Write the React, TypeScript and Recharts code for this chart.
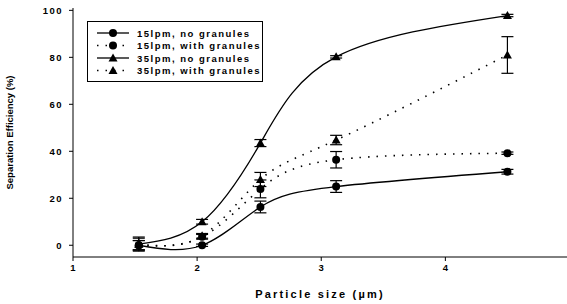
import React from 'react';
import { LineChart, Line, XAxis, YAxis, ErrorBar } from 'recharts';

// particle sizes (µm) and separation efficiency (%) per series
const sizes = [1.53, 2.04, 2.51, 3.12, 4.5];
const noGran15 = [0, 0, 16.3, 25, 31.3];
const noGran15Err = [2, 0.5, 2.5, 2.5, 1];
const gran15 = [0, 3.6, 24, 36.4, 39.2];
const gran15Err = [2, 1, 3.8, 3.5, 0.5];
const noGran35 = [0.5, 10, 43.5, 80.2, 97.8];
const noGran35Err = [2.5, 1, 1.5, 0.5, 0.5];
const gran35 = [0.5, 4, 28, 44.8, 81];
const gran35Err = [3, 1, 3, 2, 7.8];

const xTicks = [1, 2, 3, 4];
const yTicks = [0, 20, 40, 60, 80, 100];

const seriesNames = [
  '15lpm, no granules',
  '15lpm, with granules',
  '35lpm, no granules',
  '35lpm, with granules',
];

const data = sizes.map((s, i) => ({
  size: s,
  a: noGran15[i], aErr: noGran15Err[i],
  b: gran15[i], bErr: gran15Err[i],
  c: noGran35[i], cErr: noGran35Err[i],
  d: gran35[i], dErr: gran35Err[i],
}));

const font = '"Liberation Sans", Arial, sans-serif';
const dotted = '1.5 7';

const Circle = (props: any) => {
  const { cx, cy, key } = props;
  if (cx == null || cy == null) return null;
  return <circle key={key} cx={cx} cy={cy} r={4} fill="#000" />;
};

const Triangle = (props: any) => {
  const { cx, cy, key } = props;
  if (cx == null || cy == null) return null;
  return <path key={key} d={`M${cx},${cy - 4.5} L${cx + 4.5},${cy + 3.5} L${cx - 4.5},${cy + 3.5} Z`} fill="#000" />;
};

// legend drawn as a boxed overlay inside the plot, like the original figure
function LegendBox() {
  const rows = [
    { dash: undefined, tri: false },
    { dash: dotted, tri: false },
    { dash: undefined, tri: true },
    { dash: dotted, tri: true },
  ];
  return (
    <div style={{ position: 'absolute', left: 87, top: 21, border: '1px solid #000', width: 174, height: 59, background: '#fff' }}>
      <svg width={174} height={59} style={{ display: 'block' }}>
        {rows.map((r, i) => {
          const y = 11 + i * 12.5;
          return (
            <g key={i}>
              <line x1={9} x2={41} y1={y} y2={y} stroke="#000" strokeWidth={1.3} strokeDasharray={r.dash} />
              {r.tri ? <Triangle cx={25} cy={y} /> : <Circle cx={25} cy={y} />}
              <text x={49} y={y + 3.5} fontFamily={font} fontWeight="bold" fontSize={9.5} letterSpacing={1.5}>
                {seriesNames[i]}
              </text>
            </g>
          );
        })}
      </svg>
    </div>
  );
}

export default function App() {
  return (
    <div style={{ position: 'fixed', left: 0, top: 0, width: 567, height: 304, background: '#fff' }}>
      <LineChart width={567} height={304} data={data} margin={{ top: 8, right: 0, bottom: 0, left: 0 }}>
        <XAxis
          dataKey="size"
          type="number"
          domain={[1, 4.98]}
          ticks={xTicks}
          allowDataOverflow
          stroke="#000"
          tickSize={4}
          tick={{ fill: '#000', fontSize: 9.5, fontWeight: 'bold', fontFamily: font }}
          tickMargin={3}
          label={{
            value: 'Particle size (µm)',
            position: 'insideBottom',
            offset: 6,
            style: { fontFamily: font, fontWeight: 'bold', fontSize: 11, letterSpacing: 2.2, fill: '#000' },
          }}
          height={47}
        />
        <XAxis xAxisId="top" orientation="top" dataKey="size" type="number" domain={[1, 4.98]} tick={false} tickLine={false} stroke="#000" height={0} />
        <YAxis
          type="number"
          domain={[-5, 101]}
          ticks={yTicks}
          allowDataOverflow
          stroke="#000"
          tickSize={4}
          width={73}
          tick={{ fill: '#000', fontSize: 9.5, fontWeight: 'bold', fontFamily: font, letterSpacing: 1.5 }}
          tickMargin={6}
          label={{
            value: 'Separation Efficiency (%)',
            angle: -90,
            position: 'insideLeft',
            offset: 10,
            style: { textAnchor: 'middle', fontFamily: font, fontWeight: 'bold', fontSize: 9.5, fill: '#000' },
          }}
        />
        <Line type="natural" dataKey="a" stroke="#000" strokeWidth={1.3} dot={<Circle />} isAnimationActive={false}>
          <ErrorBar dataKey="aErr" width={6} stroke="#000" strokeWidth={1.2} />
        </Line>
        <Line type="natural" dataKey="b" stroke="#000" strokeWidth={1.6} strokeDasharray={dotted} dot={<Circle />} isAnimationActive={false}>
          <ErrorBar dataKey="bErr" width={6} stroke="#000" strokeWidth={1.2} />
        </Line>
        <Line type="natural" dataKey="c" stroke="#000" strokeWidth={1.3} dot={<Triangle />} isAnimationActive={false}>
          <ErrorBar dataKey="cErr" width={6} stroke="#000" strokeWidth={1.2} />
        </Line>
        <Line type="natural" dataKey="d" stroke="#000" strokeWidth={1.6} strokeDasharray={dotted} dot={<Triangle />} isAnimationActive={false}>
          <ErrorBar dataKey="dErr" width={6} stroke="#000" strokeWidth={1.2} />
        </Line>
      </LineChart>
      <LegendBox />
    </div>
  );
}
